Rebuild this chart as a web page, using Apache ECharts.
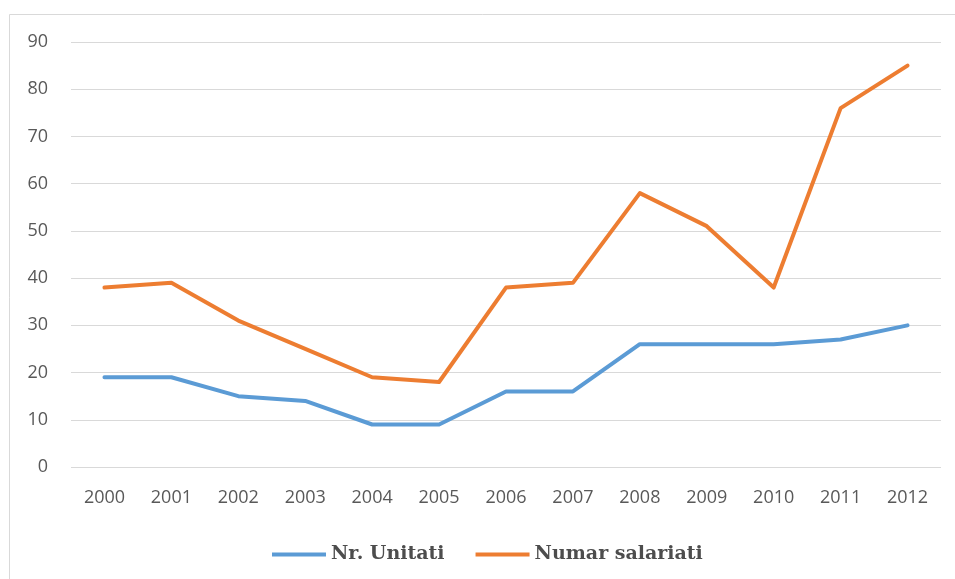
<!DOCTYPE html>
<html>
<head>
<meta charset="utf-8">
<script src="https://cdn.jsdelivr.net/npm/echarts@6/dist/echarts.min.js"></script>
<style>
  html, body { margin: 0; padding: 0; background: #fff; }
  #main { width: 955px; height: 579px; }
</style>
</head>
<body>
<div id="main"></div>
<script>
// date
var years = ['2000', '2001', '2002', '2003', '2004', '2005', '2006', '2007', '2008', '2009', '2010', '2011', '2012'];
var nrUnitati = [19, 19, 15, 14, 9, 9, 16, 16, 26, 26, 26, 27, 30];
var numarSalariati = [38, 39, 31, 25, 19, 18, 38, 39, 58, 51, 38, 76, 85];
var yTicks = [0, 10, 20, 30, 40, 50, 60, 70, 80, 90];

var chart = echarts.init(document.getElementById('main'));

var option = {
  animation: false,
  backgroundColor: '#fff',
  graphic: [{
    type: 'rect',
    left: 7, top: 12,
    shape: { width: 960, height: 600 },
    style: { fill: 'none', stroke: '#d9d9d9', lineWidth: 1 }
  }],
  grid: { left: 71, right: 14, top: 42, bottom: 112 },
  legend: {
    left: 267,
    top: 540,
    icon: 'rect',
    itemWidth: 54,
    itemHeight: 4,
    itemGap: 31,
    textStyle: {
      fontFamily: 'DejaVu Serif',
      fontWeight: 'bold',
      fontSize: 19,
      color: '#4d4d4d'
    },
    data: ['Nr. Unitati', 'Numar salariati']
  },
  xAxis: {
    type: 'category',
    data: years,
    boundaryGap: true,
    axisLine: { show: false },
    axisTick: { show: false },
    axisLabel: { color: '#595959', fontFamily: 'Open Sans', fontSize: 18, margin: 22 }
  },
  yAxis: {
    type: 'value',
    min: yTicks[0],
    max: yTicks[yTicks.length - 1],
    interval: 10,
    axisLine: { show: false },
    axisTick: { show: false },
    axisLabel: { color: '#595959', fontFamily: 'Open Sans', fontSize: 18, margin: 23 },
    splitLine: { lineStyle: { color: '#d9d9d9', width: 1 } }
  },
  series: [
    {
      name: 'Nr. Unitati',
      type: 'line',
      data: nrUnitati,
      symbol: 'none',
      color: '#5B9BD5',
      lineStyle: { width: 4, cap: 'round', join: 'round' }
    },
    {
      name: 'Numar salariati',
      type: 'line',
      data: numarSalariati,
      symbol: 'none',
      color: '#ED7D31',
      lineStyle: { width: 4, cap: 'round', join: 'round' }
    }
  ]
};

chart.setOption(option);
</script>
</body>
</html>
